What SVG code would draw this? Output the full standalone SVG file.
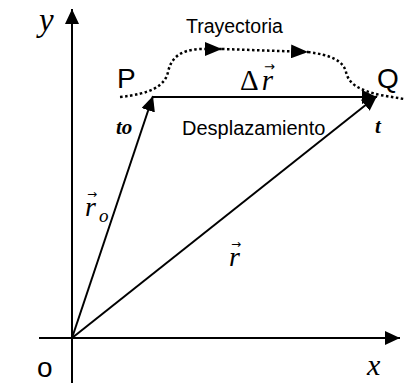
<svg xmlns="http://www.w3.org/2000/svg" width="404" height="383" viewBox="0 0 404 383">
<style>
.ax{stroke:#000;stroke-width:2;fill:none}
.vec{stroke:#000;stroke-width:2;fill:none}
.dot{stroke:#000;stroke-width:2.5;fill:none;stroke-dasharray:2.5 2.5}
.sans{font-family:"Liberation Sans",Arial,sans-serif;fill:#000}
.math{font-family:"Liberation Serif","Times New Roman",serif;font-style:italic;fill:#000}
.up{font-family:"Liberation Serif","Times New Roman",serif;fill:#000}
.bi{font-family:"Liberation Serif","Times New Roman",serif;font-style:italic;font-weight:bold;fill:#000}
.acc{font-family:"DejaVu Sans",sans-serif;font-style:normal;fill:#000}
</style>
<defs>
<marker id="ah" markerUnits="userSpaceOnUse" markerWidth="16" markerHeight="14" refX="15" refY="7" orient="auto" viewBox="0 0 16 14">
<path d="M0,0 L15,7 L0,14 Z" fill="#000"/>
</marker>
<marker id="ahs" markerUnits="userSpaceOnUse" markerWidth="18" markerHeight="14" refX="17" refY="7" orient="auto" viewBox="0 0 18 14">
<path d="M0,0 L17,7 L0,14 Z" fill="#000"/>
</marker>
</defs>
<g id="axes">
<line class="ax" x1="72" y1="383" x2="72" y2="9" marker-end="url(#ah)"/>
<line class="ax" x1="39" y1="338" x2="400" y2="338" marker-end="url(#ah)"/>
<text class="math" x="39" y="31" font-size="33">y</text>
<text class="math" x="367" y="375" font-size="30">x</text>
<text class="sans" x="37" y="377" font-size="28">o</text>
</g>
<g id="connectors">
<line id="r0" class="vec" x1="72" y1="338" x2="153" y2="96" marker-end="url(#ah)"/>
<line id="r" class="vec" x1="72" y1="338" x2="377" y2="96" marker-end="url(#ah)"/>
<line id="dr" class="vec" x1="153" y1="97" x2="377" y2="97" marker-end="url(#ah)"/>
<path id="traj1" class="dot" d="M120,97 C150,94 165,86 168,72 C171,58 180,50 200,49 L222,49" marker-end="url(#ahs)"/>
<path id="traj2" class="dot" d="M222,49 L308,52" marker-end="url(#ahs)"/>
<path id="traj3" class="dot" d="M308,52 C330,55 343,60 346,72 C349,85 360,90 380,95 L404,99"/>
</g>
<g id="P"><text class="sans" x="117" y="88" font-size="28">P</text></g>
<g id="Q"><text class="sans" x="377" y="88" font-size="28">Q</text></g>
<g id="labels">
<text class="sans" x="186" y="33" font-size="19.5">Trayectoria</text>
<text class="sans" x="182" y="135" font-size="20">Desplazamiento</text>
<text class="bi" x="116" y="134" font-size="21">to</text>
<text class="bi" x="375" y="133" font-size="21">t</text>
<text class="up" x="240" y="90" font-size="29">Δ<tspan class="math" dx="3">r</tspan><tspan class="acc" font-size="13" dx="-9" dy="-19">→</tspan></text>
<text class="math" x="85" y="216" font-size="28">r<tspan class="acc" font-size="12" dx="-9" dy="-18">→</tspan><tspan font-size="19" dx="2" dy="24">o</tspan></text>
<text class="math" x="229" y="266" font-size="28">r<tspan class="acc" font-size="12" dx="-9" dy="-18">→</tspan></text>
</g>
</svg>
